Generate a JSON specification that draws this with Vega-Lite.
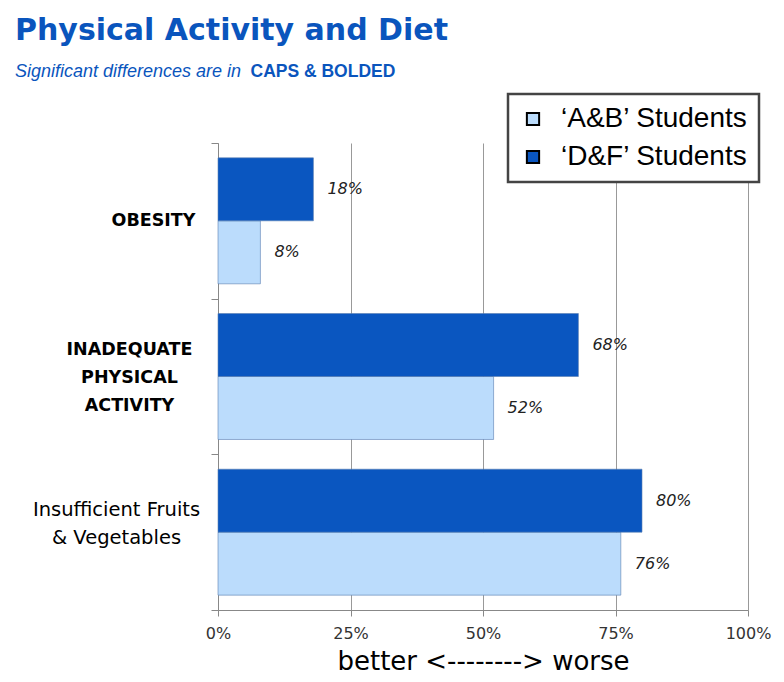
{
  "$schema": "https://vega.github.io/schema/vega-lite/v6.json",
  "width": 530,
  "height": 467,
  "autosize": {"type": "none"},
  "padding": {"left": 218, "top": 143, "right": 36, "bottom": 72},
  "background": "white",
  "title": {
    "text": "Physical Activity and Diet",
    "subtitle": "Significant differences are in",
    "anchor": "start",
    "frame": "group",
    "dx": -203,
    "dy": 39,
    "offset": 20,
    "font": "DejaVu Sans",
    "fontSize": 30,
    "fontWeight": "bold",
    "color": "#0A55BD",
    "subtitleFont": "Liberation Sans",
    "subtitleFontSize": 18,
    "subtitleFontStyle": "italic",
    "subtitleColor": "#0A55BD",
    "subtitlePadding": 17
  },
  "data": {
    "values": [
      {"category": "OBESITY", "group": "‘A&B’ Students", "value": 0.08},
      {"category": "OBESITY", "group": "‘D&F’ Students", "value": 0.18},
      {"category": "INADEQUATE PHYSICAL ACTIVITY", "group": "‘A&B’ Students", "value": 0.52},
      {"category": "INADEQUATE PHYSICAL ACTIVITY", "group": "‘D&F’ Students", "value": 0.68},
      {"category": "Insufficient Fruits & Vegetables", "group": "‘A&B’ Students", "value": 0.76},
      {"category": "Insufficient Fruits & Vegetables", "group": "‘D&F’ Students", "value": 0.80}
    ]
  },
  "encoding": {
    "y": {
      "field": "category",
      "type": "nominal",
      "sort": ["OBESITY", "INADEQUATE PHYSICAL ACTIVITY", "Insufficient Fruits & Vegetables"],
      "scale": {"paddingInner": 0, "paddingOuter": 0},
      "axis": {
        "title": "CAPS & BOLDED",
        "titleAngle": 0,
        "titleX": 32,
        "titleY": -67,
        "titleAlign": "left",
        "titleBaseline": "alphabetic",
        "titleFont": "Liberation Sans",
        "titleFontSize": 17.5,
        "titleFontWeight": "bold",
        "titleColor": "#0A55BD",
        "domainColor": "#888888",
        "tickColor": "#888888",
        "tickBand": "extent",
        "tickSize": 7,
        "labelAlign": "center",
        "labelBaseline": "middle",
        "labelFont": "DejaVu Sans",
        "labelFontSize": {"condition": {"test": "datum.value == 'Insufficient Fruits & Vegetables'", "value": 19.5}, "value": 17.5},
        "labelColor": "black",
        "labelLineHeight": 28,
        "labelPadding": {"condition": [{"test": "datum.value == 'OBESITY'", "value": 58}, {"test": "datum.value == 'Insufficient Fruits & Vegetables'", "value": 95}], "value": 82},
        "labelOffset": {"condition": [{"test": "datum.value == 'INADEQUATE PHYSICAL ACTIVITY'", "value": -27}, {"test": "datum.value == 'Insufficient Fruits & Vegetables'", "value": -23}], "value": 0},
        "labelFontWeight": {"condition": {"test": "datum.value == 'Insufficient Fruits & Vegetables'", "value": "normal"}, "value": "bold"},
        "labelExpr": "datum.value == 'INADEQUATE PHYSICAL ACTIVITY' ? ['INADEQUATE', 'PHYSICAL', 'ACTIVITY'] : datum.value == 'Insufficient Fruits & Vegetables' ? ['Insufficient Fruits', '& Vegetables'] : datum.value"
      }
    },
    "yOffset": {
      "field": "group",
      "sort": ["‘D&F’ Students", "‘A&B’ Students"],
      "scale": {"paddingInner": 0, "paddingOuter": 0.236}
    }
  },
  "layer": [
    {
      "mark": {"type": "bar", "stroke": "#5A7FB0", "strokeWidth": 1, "strokeOpacity": 0.6},
      "encoding": {
        "x": {
          "field": "value",
          "type": "quantitative",
          "scale": {"domain": [0, 1]},
          "axis": {
            "title": "better <--------> worse",
            "titleFont": "DejaVu Sans",
            "titleFontSize": 26,
            "titleFontWeight": "normal",
            "titleColor": "black",
            "titlePadding": 7,
            "format": ".0%",
            "values": [0, 0.25, 0.5, 0.75, 1],
            "labelFlush": false,
            "labelFont": "DejaVu Sans",
            "labelFontSize": 16,
            "labelColor": "#333333",
            "labelPadding": 9,
            "domainColor": "#888888",
            "tickColor": "#888888",
            "tickSize": 6,
            "grid": true,
            "gridColor": "#999999",
            "gridWidth": 1
          }
        },
        "color": {
          "field": "group",
          "type": "nominal",
          "scale": {"domain": ["‘A&B’ Students", "‘D&F’ Students"], "range": ["#BBDCFC", "#0A56C0"]},
          "legend": {
            "title": null,
            "orient": "none",
            "legendX": 290,
            "legendY": -49,
            "padding": 11,
            "strokeColor": "#444444",
            "fillColor": "white",
            "symbolType": "square",
            "symbolSize": 150,
            "symbolStrokeColor": "black",
            "symbolStrokeWidth": 2,
            "labelFont": "Liberation Sans",
            "labelFontSize": 28,
            "labelColor": "black",
            "labelOffset": 14,
            "rowPadding": 10,
            "labelLimit": 400,
            "encode": {"legend": {"update": {"strokeWidth": {"value": 2.5}}}}
          }
        }
      }
    },
    {
      "mark": {"type": "text", "align": "left", "baseline": "middle", "dx": 14, "font": "DejaVu Sans", "fontSize": 16, "fontStyle": "italic", "color": "#222222"},
      "encoding": {
        "x": {"field": "value", "type": "quantitative"},
        "text": {"field": "value", "type": "quantitative", "format": ".0%"}
      }
    }
  ],
  "config": {
    "view": {"stroke": null}
  }
}
